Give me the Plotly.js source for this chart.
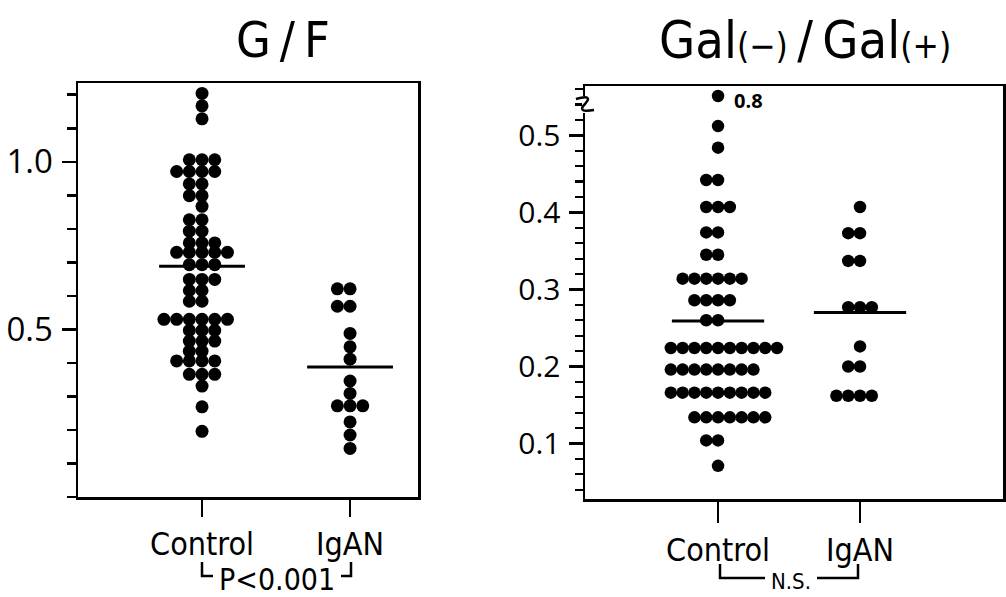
<!DOCTYPE html>
<html><head><meta charset="utf-8">
<script src="https://cdn.plot.ly/plotly-3.0.1.min.js"></script>
<style>html,body{margin:0;padding:0;background:#fff}</style>
</head><body><div id="chart" style="width:1006px;height:597px"></div>
<script>
const categories = ['Control', 'IgAN'];
const panelTitles = ['G\u2009/\u2009F', 'Gal<span style="font-size:35px">(\u2212)</span>\u2009/\u2009Gal<span style="font-size:35px">(+)</span>'];
const pLabels = ['P<0.001', 'N.S.'];
const outlierLabel = '0.8';

// G/F : values and horizontal slot (in dot widths) of each dot
const gfControlValues = [
  1.204, 1.167, 1.128,
  1.006, 1.006, 1.006,
  0.971, 0.971, 0.971, 0.971,
  0.934, 0.934,
  0.899, 0.899,
  0.867,
  0.827, 0.827,
  0.793, 0.793,
  0.758, 0.758, 0.758,
  0.730, 0.730, 0.730, 0.730, 0.730,
  0.693, 0.693, 0.693,
  0.649, 0.649, 0.649,
  0.616, 0.616,
  0.584, 0.584,
  0.530, 0.530, 0.530, 0.530, 0.530, 0.530,
  0.497, 0.497, 0.497,
  0.465, 0.465, 0.465,
  0.435, 0.435,
  0.406, 0.406, 0.406, 0.406,
  0.366, 0.366, 0.366,
  0.331, 0.269, 0.196
];
const gfControlSlots = [
  0, 0, 0,
  -1, 0, 1,
  -2, -1, 0, 1,
  -1, 0,
  -1, 0,
  0,
  -1, 0,
  -1, 0,
  -1, 0, 1,
  -2, -1, 0, 1, 2,
  -1, 0, 1,
  -1, 0, 1,
  -1, 0,
  -1, 0,
  -3, -2, -1, 0, 1, 2,
  -1, 0, 1,
  -1, 0, 1,
  -1, 0,
  -2, -1, 0, 1,
  -1, 0, 1,
  0, 0, 0
];
const gfIgANValues = [
  0.621, 0.621,
  0.569, 0.569,
  0.488, 0.448, 0.411, 0.346, 0.309,
  0.272, 0.272, 0.272,
  0.224, 0.185, 0.145
];
const gfIgANSlots = [
  -1, 0,
  -1, 0,
  0, 0, 0, 0, 0,
  -1, 0, 1,
  0, 0, 0
];
const gfMeans = [0.688, 0.388];

// Gal(-)/Gal(+)
const galControlValues = [
  0.551, 0.512, 0.484,
  0.442, 0.442,
  0.407, 0.407, 0.407,
  0.374, 0.374,
  0.345, 0.345,
  0.314, 0.314, 0.314, 0.314, 0.314, 0.314,
  0.286, 0.286, 0.286, 0.286,
  0.260, 0.260,
  0.224, 0.224, 0.224, 0.224, 0.224, 0.224, 0.224, 0.224, 0.224, 0.224,
  0.196, 0.196, 0.196, 0.196, 0.196, 0.196, 0.196, 0.196,
  0.166, 0.166, 0.166, 0.166, 0.166, 0.166, 0.166, 0.166, 0.166,
  0.134, 0.134, 0.134, 0.134, 0.134, 0.134, 0.134,
  0.104, 0.104,
  0.071
];
const galControlSlots = [
  0, 0, 0,
  -1, 0,
  -1, 0, 1,
  -1, 0,
  -1, 0,
  -3, -2, -1, 0, 1, 2,
  -2, -1, 0, 1,
  -1, 0,
  -4, -3, -2, -1, 0, 1, 2, 3, 4, 5,
  -4, -3, -2, -1, 0, 1, 2, 3,
  -4, -3, -2, -1, 0, 1, 2, 3, 4,
  -2, -1, 0, 1, 2, 3, 4,
  -1, 0,
  0
];
const galIgANValues = [
  0.407,
  0.373, 0.373,
  0.337, 0.337,
  0.277, 0.277, 0.277,
  0.226,
  0.200, 0.200,
  0.162, 0.162, 0.162, 0.162
];
const galIgANSlots = [
  0,
  -1, 0,
  -1, 0,
  -1, 0, 1,
  0,
  -1, 0,
  -2, -1, 0, 1
];
const galMeans = [0.259, 0.270];

// ---- layout helpers (style only) ----
const W = 1006, H = 597;
const px = x => x / W;
const py = y => (H - y) / H;
const stepL = 0.0858, stepR = 0.0831;
const meanHalfL = 0.29, meanHalfR = 0.325;
const FONT_LBL = '"DejaVu Sans Condensed","DejaVu Sans",sans-serif';
const FONT_NUM = '"Open Sans","DejaVu Sans",sans-serif';

function dots(vals, slots, cat, step, xa, ya, size) {
  return {
    type: 'scatter', mode: 'markers', xaxis: xa, yaxis: ya,
    x: slots.map(s => cat + s * step), y: vals,
    marker: {color: '#000', size: size, line: {width: 0}},
    hoverinfo: 'y', showlegend: false
  };
}
function meanLine(m, cat, half, xa, ya) {
  return {
    type: 'scatter', mode: 'lines', xaxis: xa, yaxis: ya,
    x: [cat - half, cat + half], y: [m, m],
    line: {color: '#000', width: 3}, hoverinfo: 'skip', showlegend: false
  };
}

const data = [
  dots(gfControlValues, gfControlSlots, 1, stepL, 'x', 'y', 13),
  dots(gfIgANValues, gfIgANSlots, 2, stepL, 'x', 'y', 13),
  meanLine(gfMeans[0], 1, meanHalfL, 'x', 'y'),
  meanLine(gfMeans[1], 2, meanHalfL, 'x', 'y'),
  dots(galControlValues, galControlSlots, 1, stepR, 'x2', 'y2', 12.5),
  dots(galIgANValues, galIgANSlots, 2, stepR, 'x2', 'y2', 12.5),
  meanLine(galMeans[0], 1, meanHalfR, 'x2', 'y2'),
  meanLine(galMeans[1], 2, meanHalfR, 'x2', 'y2')
];

const axisCommon = {
  showline: true, linecolor: '#000', linewidth: 2.5, mirror: true,
  showgrid: false, zeroline: false, ticks: 'outside', tickcolor: '#000', tickwidth: 2.5
};

const layout = {
  width: W, height: H,
  margin: {l: 0, r: 0, t: 0, b: 0},
  paper_bgcolor: '#fff', plot_bgcolor: '#fff',
  showlegend: false,
  xaxis: Object.assign({}, axisCommon, {
    domain: [px(78), px(418)], range: [0.162, 2.459], anchor: 'y',
    tickvals: [1, 2], ticktext: categories, ticklen: 17,
    tickfont: {family: FONT_LBL, size: 32, color: '#000'}
  }),
  yaxis: Object.assign({}, axisCommon, {
    domain: [py(497), py(83)], range: [0, 1.235], anchor: 'x',
    tickvals: [0.5, 1.0], ticktext: ['0.5', '1.0'], ticklen: 14,
    ticklabelstandoff: 2,
    tickfont: {family: FONT_NUM, size: 33, color: '#000'},
    minor: {dtick: 0.1, tick0: 0, ticks: 'outside', ticklen: 9, tickwidth: 2.5, tickcolor: '#000'}
  }),
  xaxis2: Object.assign({}, axisCommon, {
    domain: [px(585), px(1003)], range: [0.063, 3.007], anchor: 'y2',
    tickvals: [1, 2], ticktext: categories, ticklen: 21,
    tickfont: {family: FONT_LBL, size: 32, color: '#000'}
  }),
  yaxis2: Object.assign({}, axisCommon, {
    domain: [py(499), py(86)], range: [0.028, 0.564], anchor: 'x2',
    tickvals: [0.1, 0.2, 0.3, 0.4, 0.5], ticktext: ['0.1', '0.2', '0.3', '0.4', '0.5'],
    ticklen: 14, ticklabelstandoff: 2,
    tickfont: {family: FONT_NUM, size: 30, color: '#000'},
    minor: {dtick: 0.02, tick0: 0, ticks: 'outside', ticklen: 8, tickwidth: 2.2, tickcolor: '#000'}
  }),
  annotations: [
    {xref: 'paper', yref: 'paper', x: px(283), y: py(40), text: panelTitles[0],
     showarrow: false, xanchor: 'center', yanchor: 'middle',
     font: {family: FONT_LBL, size: 50, color: '#000'}},
    {xref: 'paper', yref: 'paper', x: px(805), y: py(40), text: panelTitles[1],
     showarrow: false, xanchor: 'center', yanchor: 'middle',
     font: {family: FONT_LBL, size: 52, color: '#000'}},
    {xref: 'x2', yref: 'y2', x: 1.1, y: galControlValues[0], text: '<b>' + outlierLabel + '</b>',
     showarrow: false, xanchor: 'left', yanchor: 'middle', yshift: -4,
     font: {family: FONT_NUM, size: 20, color: '#000'}},
    {xref: 'paper', yref: 'paper', x: px(277), y: py(579), text: pLabels[0],
     showarrow: false, xanchor: 'center', yanchor: 'middle', borderpad: 0,
     font: {family: FONT_LBL, size: 30, color: '#000'}},
    {xref: 'paper', yref: 'paper', x: px(791), y: py(581), text: pLabels[1],
     showarrow: false, xanchor: 'center', yanchor: 'middle', borderpad: 0,
     font: {family: FONT_LBL, size: 22, color: '#000'}}
  ],
  shapes: [
    // P bracket (left)
    {type: 'path', xref: 'paper', yref: 'paper',
     path: `M ${px(202)} ${py(562)} L ${px(202)} ${py(576)} L ${px(213)} ${py(576)}`,
     line: {color: '#000', width: 2.5}},
    {type: 'path', xref: 'paper', yref: 'paper',
     path: `M ${px(341)} ${py(576)} L ${px(351)} ${py(576)} L ${px(351)} ${py(562)}`,
     line: {color: '#000', width: 2.5}},
    // N.S. bracket (right)
    {type: 'path', xref: 'paper', yref: 'paper',
     path: `M ${px(720)} ${py(564)} L ${px(720)} ${py(578)} L ${px(765)} ${py(578)}`,
     line: {color: '#000', width: 2.5}},
    {type: 'path', xref: 'paper', yref: 'paper',
     path: `M ${px(817)} ${py(578)} L ${px(858)} ${py(578)} L ${px(858)} ${py(564)}`,
     line: {color: '#000', width: 2.5}},
    // axis break mark
    {type: 'rect', xref: 'paper', yref: 'paper', x0: px(582), x1: px(589), y0: py(113), y1: py(96),
     fillcolor: '#fff', line: {width: 0}},
    {type: 'path', xref: 'paper', yref: 'paper',
     path: `M ${px(576)} ${py(99)} Q ${px(594)} ${py(94)} ${px(585)} ${py(104)} Q ${px(576)} ${py(113)} ${px(594)} ${py(110)}`,
     line: {color: '#000', width: 2.5}}
  ]
};

Plotly.newPlot('chart', data, layout, {staticPlot: true, displayModeBar: false});
</script>
</body></html>
